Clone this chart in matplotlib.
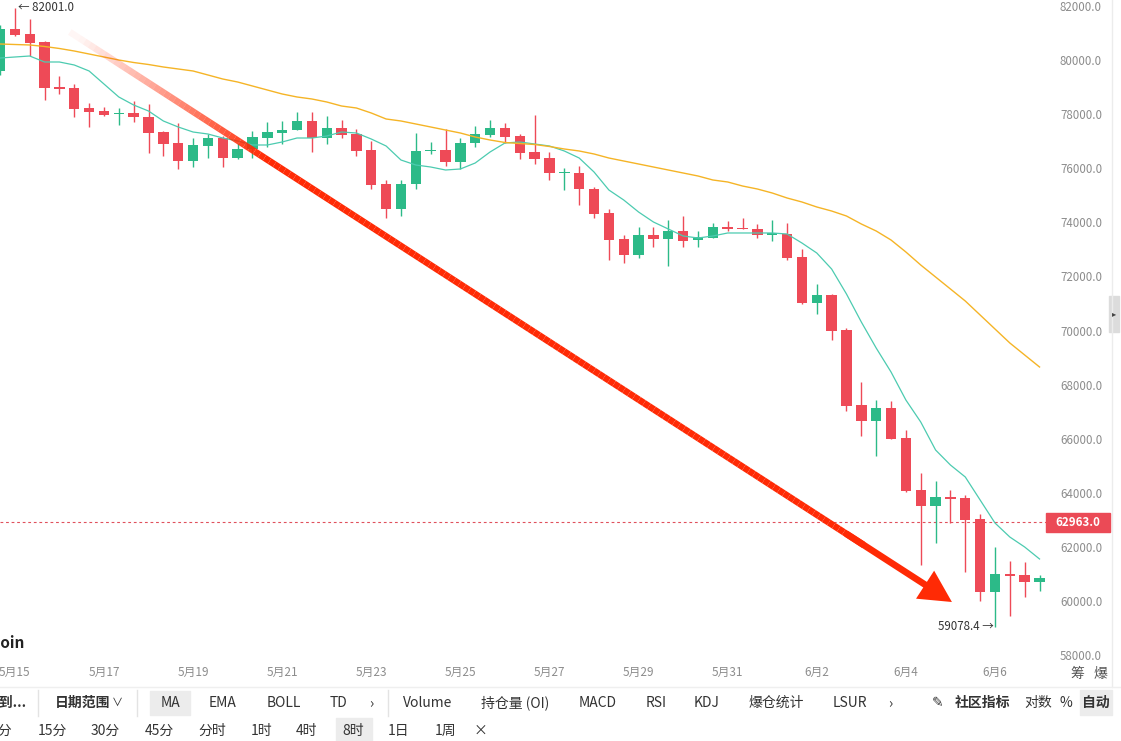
import numpy as np
import pandas as pd
import matplotlib
matplotlib.use("Agg")
import matplotlib.pyplot as plt
import matplotlib.transforms as mtransforms
from matplotlib.collections import LineCollection
from matplotlib.patches import Rectangle, FancyArrowPatch

plt.rcParams['font.family'] = ['Noto Sans CJK SC', 'DejaVu Sans']

# 8h candles, 2024-05-14 16:00 -> 2024-06-06 16:00
dates = pd.date_range("2024-05-14 16:00", periods=71, freq="8h")

opens = [79667, 81222, 81037, 80741, 79074, 79037, 78296, 78185, 78074, 78111,
         77963, 77407, 77000, 76333, 76889, 77185, 76444, 76778, 77185, 77370,
         77481, 77815, 77185, 77556, 77333, 76741, 75481, 74556, 75481, 76704,
         76741, 76296, 77000, 77296, 77556, 77259, 76667, 76444, 75889, 75889,
         75296, 74407, 73444, 72852, 73593, 73444, 73741, 73407, 73481, 73889,
         73852, 73815, 73593, 73630, 72778, 71074, 71370, 70074, 67296, 66704,
         67185, 66074, 64148, 63556, 63889, 63852, 63074, 60370, 61037, 61000,
         60741]
highs = [81370, 82001, 81593, 80778, 79481, 79185, 78481, 78333, 78296, 78556,
         78444, 77444, 77741, 77185, 77333, 77259, 77000, 77444, 77778, 77815,
         78148, 78148, 78000, 77852, 77519, 77074, 75630, 75630, 77370, 77037,
         77519, 77185, 77630, 77852, 77741, 77333, 78037, 76667, 76074, 76148,
         75370, 74556, 73593, 73889, 73889, 74148, 74296, 73741, 74037, 74111,
         74222, 74000, 74148, 74037, 73074, 71778, 71407, 70148, 68148, 67481,
         67444, 66370, 64778, 64481, 64148, 63963, 63259, 62037, 61519, 61481,
         61000]
lows = [79518, 80963, 80222, 78593, 78815, 77963, 77593, 78000, 77667, 77778,
        76630, 76519, 76037, 76111, 76444, 76111, 76407, 76444, 76852, 76963,
        77481, 76667, 76963, 77185, 76519, 75296, 74222, 74296, 75296, 76593,
        76148, 76037, 76852, 77222, 77000, 76407, 76222, 75630, 75259, 74704,
        74222, 72667, 72556, 72741, 73148, 72444, 73148, 73148, 73481, 73741,
        73800, 73481, 73370, 72667, 71037, 70667, 69704, 67074, 66148, 65407,
        66037, 64074, 61370, 62185, 62926, 61111, 60037, 59078.4, 59481, 60185,
        60407]
closes = [81222, 81000, 80704, 79037, 79000, 78259, 78148, 78037, 78111, 77963,
          77370, 76963, 76333, 76926, 77185, 76444, 76778, 77222, 77407, 77481,
          77815, 77185, 77556, 77296, 76704, 75444, 74556, 75481, 76704, 76741,
          76296, 77000, 77333, 77556, 77222, 76630, 76407, 75889, 75926, 75296,
          74370, 73407, 72852, 73593, 73444, 73741, 73370, 73519, 73889, 73815,
          73800, 73593, 73667, 72741, 71074, 71370, 70037, 67259, 66704, 67185,
          66037, 64111, 63556, 63889, 63815, 63037, 60370, 61037, 60963, 60741,
          60889]

# moving averages
ma_fast = [80148, 80185, 80222, 80000, 80000, 79889, 79667, 79185, 78704, 78407,
           78185, 77815, 77593, 77407, 77333, 77185, 77074, 76926, 76926, 77037,
           77185, 77185, 77259, 77407, 77370, 77148, 76889, 76370, 76185, 76111,
           76000, 76037, 76259, 76667, 77000, 77037, 76963, 76889, 76704, 76444,
           75926, 75259, 74889, 74444, 74074, 73815, 73556, 73481, 73556, 73667,
           73667, 73667, 73667, 73630, 73296, 72926, 72333, 71407, 70370, 69407,
           68519, 67481, 66667, 65630, 65074, 64630, 63778, 62926, 62407, 62037,
           61593]
ma_slow = [80667, 80648, 80630, 80574, 80500, 80407, 80296, 80185, 80074, 79981,
           79907, 79815, 79741, 79667, 79519, 79370, 79259, 79111, 78963, 78815,
           78704, 78630, 78519, 78370, 78296, 78111, 77889, 77815, 77704, 77593,
           77481, 77370, 77222, 77111, 77019, 76981, 76944, 76870, 76778, 76704,
           76593, 76444, 76333, 76222, 76111, 76000, 75889, 75778, 75630, 75556,
           75407, 75296, 75148, 74963, 74815, 74630, 74481, 74296, 74000, 73741,
           73407, 72963, 72481, 72037, 71593, 71148, 70630, 70111, 69593, 69148,
           68704]

current_price = 62963.0
price_ticks = list(range(58000, 82001, 2000))

# arrow drawn on the chart (candle index, price)
arrow_start = (4.7, 81110)
arrow_tip = (64.1, 60000)

W, H = 1121, 741
RED = '#ee4a57'
GREEN = '#2cba88'
ARROW = '#ff2a05'
GRAY = '#8c8c8c'

fig = plt.figure(figsize=(W / 100, H / 100), dpi=100)
ax = fig.add_axes([0, (H - 665) / H, 1048 / W, 665 / H])
ax.set_xlim(0, 70.57)
ax.set_ylim(57667, 82296)
ax.axis('off')

o = np.array(opens, float)
h = np.array(highs, float)
l = np.array(lows, float)
c = np.array(closes, float)
x = np.arange(len(o))
up = c >= o
cols = np.where(up, GREEN, RED)

ax.vlines(x, l, h, colors=cols, lw=1.0, zorder=2)
body_low = np.minimum(o, c)
body_h = np.maximum(np.abs(c - o), 55)
ax.bar(x, body_h, bottom=body_low, width=0.7, color=cols, zorder=3)

ax.plot(x, ma_fast, color='#4ccbb0', lw=0.9, zorder=4)
ax.plot(x, ma_slow, color='#f5b426', lw=1.0, zorder=4)

ax.axhline(current_price, color='#e0505c', lw=0.8, ls=(0, (2.5, 2.5)), zorder=1)

# high / low markers
ih = int(np.argmax(h))
il = int(np.argmin(l))
ax.text(ih + 0.22, h[ih], f"← {h[ih]:.1f}", ha='left', va='center',
        fontsize=8.3, color='#333333', zorder=6)
ax.text(il - 0.08, l[il], f"{l[il]:.1f} →", ha='right', va='center',
        fontsize=8.3, color='#333333', zorder=6)

# date labels (row below the plot area)
ref = pd.Timestamp("2024-05-15")
for i, d in enumerate(dates):
    if d.hour == 0 and (d - ref).days % 2 == 0:
        ax.text(i, -0.0105, f"{d.month}月{d.day}", transform=ax.get_xaxis_transform(),
                ha='center', va='center', fontsize=8.5, color=GRAY, clip_on=False)

# arrow: shaft fading in, then head
p0 = np.array(arrow_start, float)
p1 = np.array(arrow_tip, float)
t = np.linspace(0, 0.9, 160)
pts = p0 + t[:, None] * (p1 - p0)
segs = np.stack([pts[:-1], pts[1:]], axis=1)
alphas = np.clip(t[:-1] / 0.22, 0.04, 1.0)
seg_cols = [(1.0, 0.165, 0.02, a) for a in alphas]
ax.add_collection(LineCollection(segs, colors=seg_cols, linewidths=4.8,
                                 capstyle='butt', zorder=5))
head = FancyArrowPatch(posA=tuple(p0 + 0.88 * (p1 - p0)), posB=tuple(p1),
                       arrowstyle='simple,head_length=1.15,head_width=1.2,tail_width=0.24',
                       mutation_scale=20, color=ARROW, lw=0, shrinkA=0, shrinkB=0,
                       zorder=5)
ax.add_patch(head)

# price axis labels
for p in price_ticks:
    yp = ax.transData.transform((0, p))[1]
    fig.text(1060 / W, yp / H, f"{p:.1f}", ha='left', va='center',
             fontsize=8.3, color=GRAY)

# current price tag
yc = ax.transData.transform((0, current_price))[1]
fig.add_artist(Rectangle((1046, yc - 9.5), 64, 19, transform=mtransforms.IdentityTransform(),
                         color='#eb4a56', zorder=5))
fig.text(1078 / W, yc / H, f"{current_price:.1f}", ha='center', va='center',
         fontsize=8.3, color='white', fontweight='bold', zorder=6)

# right scroll strip
fig.add_artist(plt.Line2D([1112 / W, 1112 / W], [1 - 687 / H, 1], color='#ececec', lw=1))
fig.add_artist(Rectangle((1109, H - 332), 10, 36, transform=mtransforms.IdentityTransform(),
                         color='#dcdcdc'))
fig.text(1114 / W, 1 - 314 / H, "▸", ha='center', va='center', fontsize=6, color='#444444')


def txt(px, py, s, **kw):
    kw.setdefault('fontsize', 10)
    kw.setdefault('color', '#333333')
    kw.setdefault('ha', 'center')
    fig.text(px / W, 1 - py / H, s, va='center', **kw)


def box(x0, y0, x1, y1, color='#ececec'):
    fig.add_artist(Rectangle((x0, H - y1), x1 - x0, y1 - y0,
                             transform=mtransforms.IdentityTransform(), color=color, zorder=0))


def vsep(px, y0, y1):
    fig.add_artist(plt.Line2D([px / W, px / W], [1 - y1 / H, 1 - y0 / H], color='#e3e3e3', lw=1))


txt(25, 643, "Bitcoin", ha='right', fontsize=11, fontweight='bold', color='#222222')
txt(1077, 674, "筹", color='#555555')
txt(1100, 674, "爆", color='#555555')

fig.add_artist(plt.Line2D([0, 1], [1 - 687 / H, 1 - 687 / H], color='#efefef', lw=1))

# toolbar row 1
r1 = 703
box(150, 691, 190, 715)
box(1080, 690, 1112, 715)
vsep(38, 690, 716)
vsep(137, 690, 716)
vsep(388, 690, 716)
txt(27, r1, "跳转到...", ha='right', fontweight='bold')
txt(55, r1, "日期范围", ha='left', fontweight='bold')
txt(117, r1, "∨", fontsize=8)
for label, px in [("MA", 170), ("EMA", 223), ("BOLL", 284), ("TD", 339), ("›", 371),
                  ("Volume", 428), ("持仓量 (OI)", 515), ("MACD", 598), ("RSI", 656),
                  ("KDJ", 707), ("爆仓统计", 776), ("LSUR", 850), ("›", 890),
                  ("✎", 938), ("对数", 1038), ("%", 1066)]:
    txt(px, r1, label)
txt(982, r1, "社区指标", fontweight='bold')
txt(1096, r1, "自动", fontweight='bold')

# toolbar row 2
r2 = 731
box(336, 718, 372, 741)
txt(12, r2, "5分", ha='right')
for label, px in [("15分", 52), ("30分", 105), ("45分", 159), ("分时", 212), ("1时", 262),
                  ("4时", 307), ("8时", 353), ("1日", 399), ("1周", 446), ("×", 480)]:
    txt(px, r2, label)

fig.savefig("out.png", dpi=100, facecolor='white')
